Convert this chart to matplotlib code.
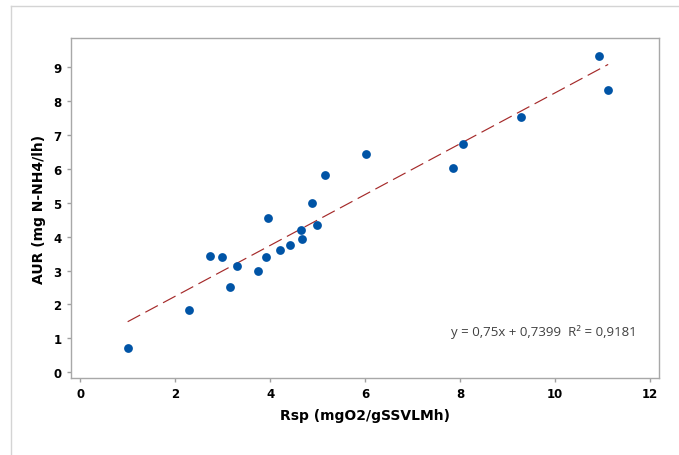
import numpy as np
import matplotlib
matplotlib.use("Agg")
import matplotlib.pyplot as plt
from matplotlib.lines import Line2D

# valores
rsp = [1.00, 2.29, 2.74, 2.99, 3.16, 3.31, 3.75, 3.92, 3.95, 4.20, 4.41,
       4.65, 4.67, 4.88, 4.98, 5.15, 6.02, 7.86, 8.06, 9.28, 10.93, 11.12]
aur = [0.72, 1.84, 3.44, 3.40, 2.50, 3.13, 2.98, 3.40, 4.55, 3.62, 3.76,
       4.21, 3.92, 4.98, 4.35, 5.81, 6.44, 6.02, 6.73, 7.52, 9.34, 8.33]
pendiente = 0.75
intercepto = 0.7399
ecuacion = 'y = 0,75x + 0,7399  R² = 0,9181'
xticks = [0, 2, 4, 6, 8, 10, 12]
yticks = [0, 1, 2, 3, 4, 5, 6, 7, 8, 9]

plt.rcParams['font.family'] = ['DejaVu Sans']

fig = plt.figure(figsize=(6.79, 4.56), dpi=100)
ax = fig.add_axes([0.1041, 0.1689, 0.8664, 0.7456])

# marco exterior (solo arriba e izquierda)
fig.add_artist(Line2D([0.0169, 1.0], [0.9846, 0.9846], color='#d4d4d4', lw=1))
fig.add_artist(Line2D([0.0169, 0.0169], [0.0, 0.9846], color='#d4d4d4', lw=1))

x = np.array(rsp)
xl = np.array([x.min(), x.max()])
ax.plot(xl, pendiente * xl + intercepto, color='#a52a2a', lw=0.85,
        dashes=(12, 5), zorder=1)
ax.scatter(rsp, aur, s=40, color='#0054a6', zorder=2, linewidths=0)

ax.text(9.76, 1.23, ecuacion, ha='center', va='center', fontsize=9.5,
        color='#404040', family=['Open Sans', 'DejaVu Sans'])

ax.set_xlim(-0.2, 12.19)
ax.set_ylim(-0.17, 9.86)
ax.set_xticks(xticks)
ax.set_yticks(yticks)
ax.tick_params(colors='#a0a0a0', labelcolor='black', length=3, width=1,
               labelsize=8.5)
for lab in ax.get_xticklabels() + ax.get_yticklabels():
    lab.set_fontweight('bold')
for s in ax.spines.values():
    s.set_color('#a8a8a8')
    s.set_linewidth(1)

ax.set_xlabel('Rsp (mgO2/gSSVLMh)', fontsize=10, fontweight='bold', labelpad=6)
ax.set_ylabel('AUR (mg N-NH4/lh)', fontsize=10, fontweight='bold', labelpad=5)

fig.savefig('out.png', dpi=100)
